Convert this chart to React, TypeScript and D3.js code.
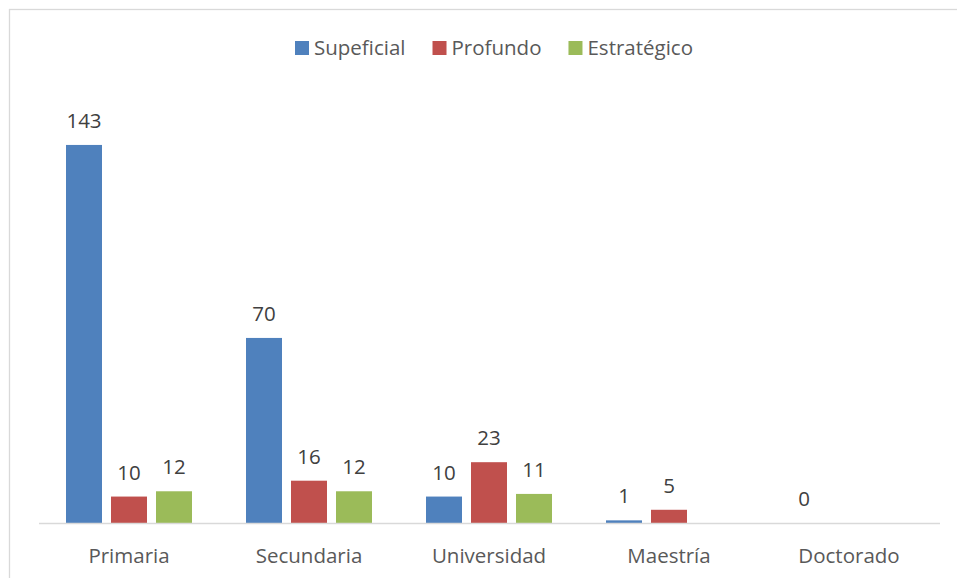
import React, { useEffect, useRef } from "react";
import * as d3 from "d3";

const categories = ["Primaria", "Secundaria", "Universidad", "Maestría", "Doctorado"];
const seriesNames = ["Supeficial", "Profundo", "Estratégico"];
const superficial: (number | null)[] = [143, 70, 10, 1, 0];
const profundo: (number | null)[] = [10, 16, 23, 5, null];
const estrategico: (number | null)[] = [12, 12, 11, null, null];
const seriesColors = ["#4F81BD", "#C0504D", "#9BBB59"];

const W = 957;
const H = 578;
const FONT = "'Open Sans', 'Noto Sans', sans-serif";
const FS = 20.5;

export default function App() {
  const legendRef = useRef<SVGGElement>(null);
  const seriesValues = [superficial, profundo, estrategico];

  const x0 = d3.scaleBand<string>().domain(categories).range([39, 939]).paddingInner(0).paddingOuter(0);
  const groupW = 126;
  const x1 = d3
    .scaleBand<string>()
    .domain(seriesNames)
    .range([(x0.bandwidth() - groupW) / 2, (x0.bandwidth() + groupW) / 2])
    .paddingInner(0.2);
  const y = d3.scaleLinear().domain([0, 160]).range([523, 100]);

  useEffect(() => {
    const g = legendRef.current;
    if (!g) return;
    const sel = d3.select(g);
    sel.selectAll("*").remove();
    let cx = 0;
    seriesNames.forEach((name, i) => {
      const item = sel.append("g").attr("transform", `translate(${cx},0)`);
      item.append("rect").attr("x", 0).attr("y", -14).attr("width", 14).attr("height", 14).attr("fill", seriesColors[i]);
      const t = item
        .append("text")
        .attr("x", 19)
        .attr("y", 0)
        .attr("font-family", FONT)
        .attr("font-size", FS)
        .attr("fill", "#595959")
        .text(name);
      const tw = (t.node() as SVGTextElement).getComputedTextLength();
      cx += 19 + tw + 27;
    });
    const total = cx - 27;
    sel.attr("transform", `translate(${494 - total / 2},55)`);
  }, []);

  return (
    <svg width={W} height={H} style={{ position: "absolute", left: 0, top: 0 }}>
      <rect x={0} y={0} width={W} height={H} fill="#ffffff" />
      <rect x={9.5} y={9.5} width={W + 20} height={H + 20} fill="none" stroke="#d9d9d9" strokeWidth={1.3} />
      <g ref={legendRef} />
      {categories.map((c, ci) => (
        <g key={c} transform={`translate(${x0(c)},0)`}>
          {seriesNames.map((s, si) => {
            const v = seriesValues[si][ci];
            if (v === null) return null;
            const bx = x1(s)!;
            const bw = x1.bandwidth();
            return (
              <g key={s}>
                {v > 0 && (
                  <rect x={bx} y={y(v)} width={bw} height={y(0) - y(v)} fill={seriesColors[si]} />
                )}
                <text
                  x={bx + bw / 2}
                  y={y(v) - 17}
                  textAnchor="middle"
                  fontFamily={FONT}
                  fontSize={FS}
                  fill="#404040"
                >
                  {v}
                </text>
              </g>
            );
          })}
          <text
            x={x0.bandwidth() / 2}
            y={563}
            textAnchor="middle"
            fontFamily={FONT}
            fontSize={FS}
            fill="#595959"
          >
            {c}
          </text>
        </g>
      ))}
      <line x1={39} x2={940} y1={y(0) + 0.5} y2={y(0) + 0.5} stroke="#d9d9d9" strokeWidth={1.5} />
    </svg>
  );
}
